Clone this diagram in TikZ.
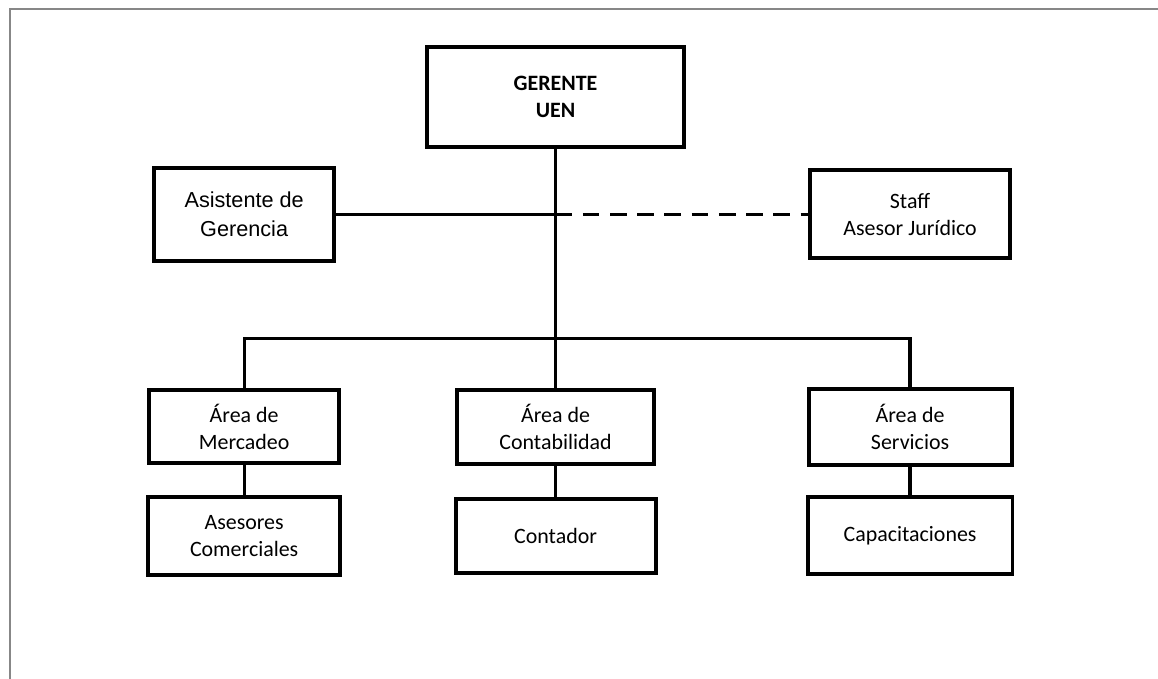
\documentclass[tikz,border=0pt]{standalone}
\usepackage{fontspec}
\setmainfont{Carlito}
\newfontfamily\arialfont{Liberation Sans}
\usetikzlibrary{positioning}
\definecolor{framegray}{RGB}{135,135,135}

\begin{document}
\begin{tikzpicture}[node distance =2.88cm and 8.24cm ,on grid ,
line width=2.4pt ,
unit/.style ={rectangle ,draw ,line width=3pt ,align=center ,
font=\fontsize{16.5}{20.5}\selectfont},
staffline/.style={dash pattern=on 12.5pt off 8pt}
]
\useasboundingbox (-14.70,2.566) rectangle (15.94,-15.40);
\draw[framegray, line width=1.5pt] (-14.43,-15.40) -- (-14.43,2.315) -- (15.94,2.315);
% top
\node[unit, minimum width=6.8cm, minimum height=2.67cm,
  font=\bfseries\fontsize{16.5}{20.5}\selectfont] (G) {GERENTE\\UEN};
\node[unit, minimum width=4.76cm, minimum height=2.46cm,
  font=\arialfont\fontsize{16.3}{21.7}\selectfont] (A) [below left = 3.1cm and 8.24cm of G] {Asistente de\\Gerencia};
\node[unit, minimum width=5.29cm, minimum height=2.33cm] (S) [below right = 3.1cm and 9.38cm of G] {Staff\\Asesor Jurídico};
% areas
\node[unit, minimum width=5.19cm, minimum height=1.96cm] (C) [below = 8.73cm of G] {Área de\\Contabilidad};
\node[unit, minimum width=5.03cm, minimum height=1.93cm] (M) [left = 8.24cm of C] {Área de\\Mercadeo};
\node[unit, minimum width=5.37cm, minimum height=2.01cm] (V) [right = 9.38cm of C] {Área de\\Servicios};
\node[unit, minimum width=5.08cm, minimum height=2.06cm] (M1) [below = of M] {Asesores\\Comerciales};
\node[unit, minimum width=5.29cm, minimum height=1.96cm] (C1) [below = of C] {Contador};
\node[unit, minimum width=5.42cm, minimum height=2.04cm] (V1) [below = of V] {Capacitaciones};
\coordinate (mid) at (A -| G);
\coordinate[below = 6.38cm of G] (bus);
\draw (G.south) -- (bus);
\draw (A) -- (mid);
\draw[staffline] (mid) -- (S);
\draw (bus) -| (M.north);
\draw (bus) -| (V.north);
\draw (bus) -- (C);
\draw (M) -- (M1);
\draw (C) -- (C1);
\draw (V) -- (V1);
\end{tikzpicture}
\end{document}
